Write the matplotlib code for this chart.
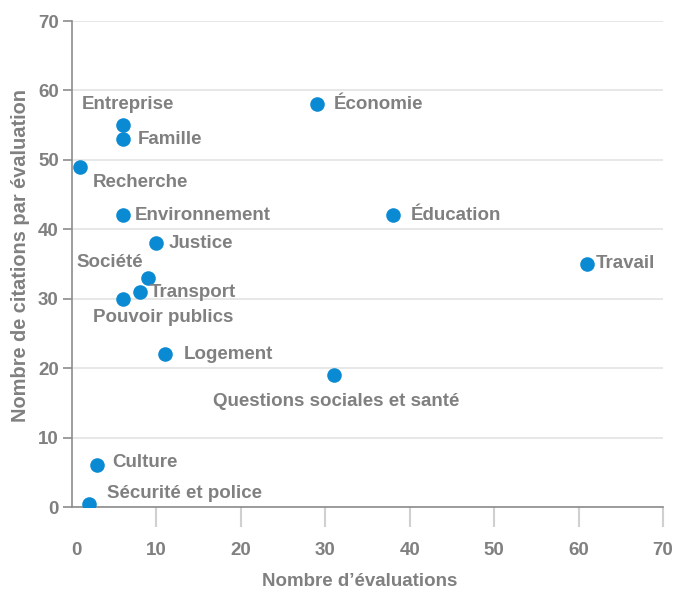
import matplotlib
matplotlib.use("Agg")
import matplotlib.pyplot as plt
import matplotlib.transforms as mtrans

categories = ["Entreprise", "Famille", "Recherche", "Économie", "Environnement",
              "Justice", "Éducation", "Travail", "Société", "Transport",
              "Pouvoir publics", "Logement", "Questions sociales et santé",
              "Culture", "Sécurité et police"]
n_evaluations = [6, 6, 1, 29, 6, 10, 38, 61, 9, 8, 6, 11, 31, 3, 2]
citations_per_eval = [55, 53, 49, 58, 42, 38, 42, 35, 33, 31, 30, 22, 19, 6, 0.5]
x_ticks = [0, 10, 20, 30, 40, 50, 60, 70]
y_ticks = [0, 10, 20, 30, 40, 50, 60, 70]

# label offsets in pixels (dx, dy)
offsets = {
    "Entreprise": (-41, 21), "Famille": (15, 0), "Recherche": (12, -16),
    "Économie": (17, 0), "Environnement": (12, 0), "Justice": (12, 0),
    "Éducation": (18, 0), "Travail": (9, 0), "Société": (-72, 15),
    "Transport": (10, -1), "Pouvoir publics": (-30, -19), "Logement": (19, 0),
    "Questions sociales et santé": (-121, -26), "Culture": (15, 3),
    "Sécurité et police": (18, 10),
}

plt.rcParams['font.family'] = ['Liberation Sans', 'DejaVu Sans']
TXT = "#808080"
BLUE = "#0a8ad2"
FS = 13.5

fig = plt.figure(figsize=(6.75, 5.93), dpi=100)
ax = fig.add_axes([72/675, 86/593, 591/675, 486/593])
ax.scatter(n_evaluations, citations_per_eval, s=110, color=BLUE, zorder=3, linewidths=0)
for c, x, y in zip(categories, n_evaluations, citations_per_eval):
    dx, dy = offsets[c]
    ax.annotate(c, (x, y), xytext=(dx, dy), textcoords='offset pixels',
                ha='left', va='center', fontsize=FS, fontweight='bold', color=TXT)

ax.set_xlim(0, 70)
ax.set_ylim(0, 70)
ax.set_xticks(x_ticks)
ax.set_yticks(y_ticks)
ax.yaxis.grid(True, color="#e3e3e3", linewidth=1.2)
ax.set_axisbelow(True)
for s in ["top", "right"]:
    ax.spines[s].set_visible(False)
ax.spines["left"].set_color("#8c8c8c")
ax.spines["bottom"].set_color("#8c8c8c")
ax.spines["left"].set_linewidth(1.2)
ax.spines["bottom"].set_linewidth(1.2)
ax.tick_params(axis='x', length=14.4, width=1.5, color="#d0d0d0", pad=11,
               labelsize=FS, labelcolor=TXT)
ax.tick_params(axis='y', length=6.5, width=1.2, color="#8c8c8c", pad=3,
               labelsize=FS, labelcolor=TXT)
ax.xaxis.get_major_ticks()[0].tick1line.set_visible(False)
for lab in ax.get_xticklabels() + ax.get_yticklabels():
    lab.set_fontweight('bold')
first = ax.get_xticklabels()[0]
first.set_transform(first.get_transform() + mtrans.ScaledTranslation(4/100, 0, fig.dpi_scale_trans))
ax.set_xlabel("Nombre d’évaluations", fontsize=FS, fontweight='bold', color=TXT, labelpad=10)
ax.xaxis.label.set_x((360 - 72) / 591)
ax.set_ylabel("Nombre de citations par évaluation", fontsize=14.4, fontweight='bold', color=TXT, labelpad=6)
ax.yaxis.label.set_y((507 - 256) / 486)

fig.savefig("out.png", dpi=100)
